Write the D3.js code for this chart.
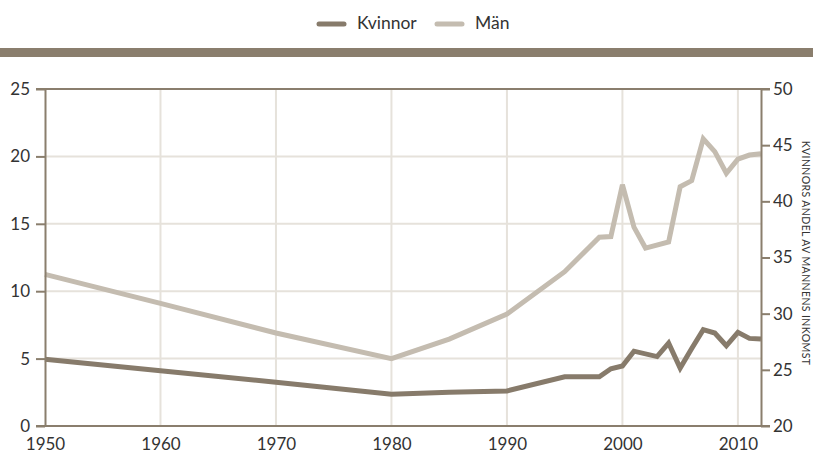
<!DOCTYPE html>
<html>
<head>
<meta charset="utf-8">
<script src="https://cdn.jsdelivr.net/npm/d3@7"></script>
<style>
  html, body { margin: 0; padding: 0; background: #fff; }
  svg { display: block; font-family: Lato, "Open Sans", sans-serif; }
</style>
</head>
<body>
<svg id="chart" width="813" height="455"></svg>
<script>
// --- Data ---
var seriesNames = ['Kvinnor', 'Män'];

var kvinnorYears = [1950, 1960, 1970, 1980, 1985, 1990, 1995, 1998, 1999, 2000, 2001, 2003,
                    2004, 2005, 2006, 2007, 2008, 2009, 2010, 2011, 2012];
var kvinnorValues = [4.95, 4.1, 3.25, 2.35, 2.5, 2.6, 3.65, 3.65, 4.25, 4.45, 5.55, 5.15,
                     6.15, 4.3, 5.75, 7.15, 6.9, 5.95, 6.95, 6.5, 6.45];

var manYears = [1950, 1960, 1970, 1980, 1985, 1990, 1995, 1998, 1999, 2000, 2001, 2002,
                2004, 2005, 2006, 2007, 2008, 2009, 2010, 2011, 2012];
var manValues = [11.25, 9.1, 6.9, 5.0, 6.45, 8.3, 11.45, 14.0, 14.05, 17.9, 14.75, 13.2,
                 13.65, 17.75, 18.2, 21.3, 20.35, 18.75, 19.8, 20.1, 20.2];

var xTicks = [1950, 1960, 1970, 1980, 1990, 2000, 2010];
var leftTicks = [0, 5, 10, 15, 20, 25];
var rightTicks = [20, 25, 30, 35, 40, 45, 50];
var rightLabel = 'KVINNORS ANDEL AV MANNENS INKOMST';

// --- Layout ---
// (note: "top" is reserved on window, so plot edges get a prefix)
var svg = d3.select('#chart');
var plotLeft = 45, plotRight = 761, plotTop = 89, plotBottom = 426;
var axisColor = '#8a7e6d';
var gridColor = '#e6e2db';
var colors = ['#877b6b', '#c4bcb0'];

var x = d3.scaleLinear().domain([1950, 2012]).range([plotLeft, plotRight]);
var y = d3.scaleLinear().domain([0, 25]).range([plotBottom, plotTop]);
var yRight = d3.scaleLinear().domain([20, 50]).range([plotBottom, plotTop]);

// top band
svg.append('rect')
  .attr('x', 0).attr('y', 48).attr('width', 813).attr('height', 9)
  .attr('fill', '#8a7e6d');

// --- Gridlines ---
var grid = svg.append('g');
grid.selectAll('line.v')
  .data(xTicks.filter(function(d) { return d > 1950; }))
  .enter().append('line')
  .attr('x1', function(d) { return x(d); }).attr('x2', function(d) { return x(d); })
  .attr('y1', plotTop).attr('y2', plotBottom)
  .attr('stroke', gridColor).attr('stroke-width', 2);
grid.selectAll('line.h')
  .data(leftTicks.filter(function(d) { return d > 0 && d < 25; }))
  .enter().append('line')
  .attr('x1', plotLeft).attr('x2', plotRight)
  .attr('y1', function(d) { return y(d); }).attr('y2', function(d) { return y(d); })
  .attr('stroke', gridColor).attr('stroke-width', 2);

// --- Lines ---
var lineGen = d3.line()
  .x(function(d) { return x(d[0]); })
  .y(function(d) { return y(d[1]); });

var seriesData = [
  d3.zip(kvinnorYears, kvinnorValues),
  d3.zip(manYears, manValues)
];

// draw Män first so Kvinnor sits on top
[1, 0].forEach(function(i) {
  svg.append('path')
    .datum(seriesData[i])
    .attr('d', lineGen)
    .attr('fill', 'none')
    .attr('stroke', colors[i])
    .attr('stroke-width', 5)
    .attr('stroke-linejoin', 'miter')
    .attr('stroke-linecap', 'butt');
});

// --- Frame (top line + axes) ---
svg.append('line')
  .attr('x1', plotLeft - 9).attr('x2', plotRight + 9)
  .attr('y1', plotTop).attr('y2', plotTop)
  .attr('stroke', axisColor).attr('stroke-width', 2);
svg.append('line')
  .attr('x1', plotLeft - 9).attr('x2', plotRight + 9)
  .attr('y1', plotBottom).attr('y2', plotBottom)
  .attr('stroke', axisColor).attr('stroke-width', 2);

function styleAxis(g) {
  g.select('.domain').attr('stroke', axisColor).attr('stroke-width', 2);
  g.selectAll('.tick line').attr('stroke', axisColor).attr('stroke-width', 2);
  g.selectAll('.tick text')
    .attr('fill', '#333')
    .style('font-size', '17px')
    .style('font-family', 'Lato, "Open Sans", sans-serif');
}

var yAxisLeft = svg.append('g')
  .attr('transform', 'translate(' + plotLeft + ',0)')
  .call(d3.axisLeft(y).tickValues(leftTicks).tickSize(9).tickSizeOuter(0).tickPadding(6));
styleAxis(yAxisLeft);

var yAxisRight = svg.append('g')
  .attr('transform', 'translate(' + plotRight + ',0)')
  .call(d3.axisRight(yRight).tickValues(rightTicks).tickSize(9).tickSizeOuter(0).tickPadding(3));
styleAxis(yAxisRight);

var xAxis = svg.append('g')
  .attr('transform', 'translate(0,' + plotBottom + ')')
  .call(d3.axisBottom(x).tickValues(xTicks).tickFormat(d3.format('d')).tickSize(0).tickPadding(6));
styleAxis(xAxis);
xAxis.select('.domain').remove();
xAxis.selectAll('.tick text').attr('dy', '0.71em').attr('y', 12);

// right axis title
svg.append('text')
  .attr('transform', 'translate(806,253) rotate(90)')
  .attr('text-anchor', 'middle')
  .attr('dy', '0.35em')
  .attr('fill', '#333')
  .style('font-size', '10.5px')
  .style('letter-spacing', '0.4px')
  .text(rightLabel);

// --- Legend ---
var legendX = [317, 435];
var legend = svg.append('g');
seriesNames.forEach(function(name, i) {
  legend.append('line')
    .attr('x1', legendX[i] + 2).attr('x2', legendX[i] + 27)
    .attr('y1', 24).attr('y2', 24)
    .attr('stroke', colors[i]).attr('stroke-width', 5)
    .attr('stroke-linecap', 'round');
  legend.append('text')
    .attr('x', legendX[i] + 40).attr('y', 29)
    .attr('fill', '#333')
    .style('font-size', '17.5px')
    .text(name);
});
</script>
</body>
</html>
